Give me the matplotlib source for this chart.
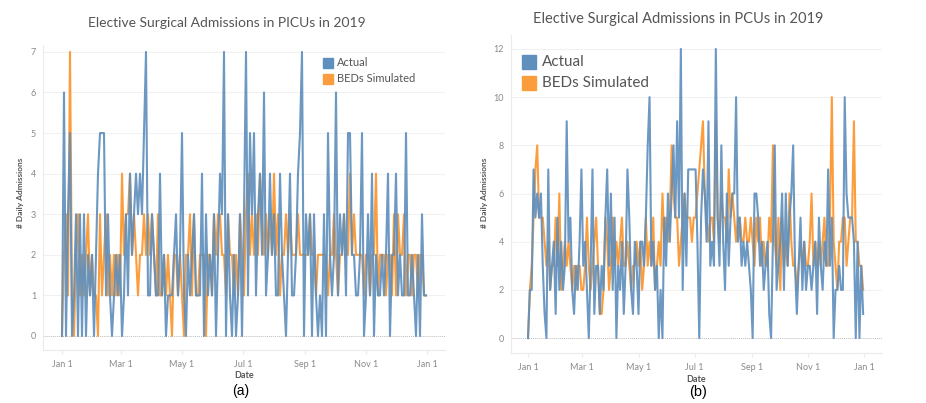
import matplotlib
matplotlib.use('Agg')
import matplotlib.pyplot as plt
import matplotlib.dates as mdates
from matplotlib.patches import Rectangle
import pandas as pd

# dates sampled every 2 days through 2019
dates = pd.date_range('2019-01-01', '2019-12-31', freq='2D')

# (a) PICUs
picu_actual = [
    0, 6, 0, 3, 5, 0, 1, 3, 0, 3,
    0, 3, 0, 2, 1, 2, 0, 2, 4, 5,
    5, 5, 1, 3, 1, 0, 1, 2, 1, 2,
    0, 1, 3, 1, 4, 2, 3, 4, 3, 4,
    3, 5, 7, 1, 1, 3, 2, 1, 1, 4,
    1, 2, 0, 1, 1, 1, 2, 3, 1, 2,
    5, 1, 0, 2, 1, 2, 3, 1, 1, 1,
    4, 0, 3, 1, 2, 1, 3, 0, 2, 4,
    3, 7, 0, 3, 1, 0, 2, 0, 1, 3,
    0, 3, 7, 1, 5, 3, 5, 1, 3, 4,
    2, 6, 1, 2, 4, 2, 3, 1, 1, 4,
    2, 1, 0, 2, 4, 1, 1, 2, 4, 5,
    7, 0, 3, 2, 3, 0, 3, 1, 0, 1,
    0, 3, 0, 5, 2, 1, 2, 6, 1, 3,
    2, 3, 1, 5, 5, 2, 2, 1, 1, 2,
    5, 0, 1, 3, 1, 4, 0, 2, 1, 1,
    2, 1, 2, 4, 0, 2, 2, 4, 1, 2,
    1, 1, 5, 1, 1, 2, 1, 0, 2, 0,
    3, 1, 1,
]
picu_sim = [
    0, 2, 3, 1, 7, 1, 0, 2, 3, 1,
    2, 1, 2, 3, 1, 2, 1, 1, 0, 3,
    1, 2, 3, 1, 2, 1, 2, 1, 2, 1,
    4, 2, 3, 3, 4, 2, 3, 2, 1, 2,
    2, 3, 2, 3, 2, 3, 2, 1, 3, 1,
    1, 2, 1, 2, 1, 0, 2, 2, 1, 2,
    1, 0, 2, 2, 3, 1, 3, 1, 1, 2,
    2, 2, 0, 2, 2, 1, 3, 2, 3, 3,
    2, 2, 1, 3, 2, 2, 1, 2, 1, 3,
    2, 1, 3, 4, 2, 3, 2, 3, 2, 4,
    3, 2, 3, 2, 3, 2, 4, 2, 3, 1,
    2, 2, 3, 2, 3, 2, 2, 2, 3, 2,
    2, 2, 2, 2, 3, 2, 2, 1, 2, 2,
    2, 2, 2, 1, 2, 2, 3, 2, 1, 2,
    2, 3, 2, 2, 4, 2, 3, 2, 2, 2,
    2, 1, 2, 2, 1, 2, 2, 4, 1, 2,
    2, 2, 1, 2, 2, 1, 3, 1, 3, 2,
    2, 3, 1, 2, 2, 1, 2, 2, 1, 2,
    2, 1, 1,
]

# (b) PCUs
pcu_actual = [
    0, 2, 2, 7, 5, 6, 5, 6, 3, 1,
    0, 7, 2, 3, 4, 1, 5, 2, 4, 2,
    3, 9, 4, 5, 2, 1, 3, 2, 4, 7,
    3, 4, 2, 0, 3, 7, 1, 3, 3, 1,
    3, 2, 5, 7, 3, 6, 2, 5, 0, 3,
    2, 4, 1, 3, 7, 5, 2, 1, 4, 3,
    1, 4, 4, 3, 5, 8, 10, 3, 4, 2,
    3, 0, 2, 0, 5, 3, 6, 4, 6, 8,
    5, 9, 5, 12, 2, 6, 3, 7, 7, 7,
    7, 7, 4, 0, 5, 7, 6, 4, 9, 3,
    4, 3, 12, 5, 3, 8, 4, 2, 6, 3,
    5, 6, 6, 10, 4, 5, 3, 4, 3, 4,
    3, 2, 0, 6, 6, 5, 3, 4, 2, 3,
    4, 1, 0, 4, 8, 2, 3, 4, 6, 2,
    6, 3, 5, 6, 8, 3, 1, 3, 5, 2,
    4, 2, 3, 3, 2, 3, 4, 1, 5, 3,
    2, 4, 3, 7, 3, 5, 0, 2, 2, 3,
    2, 2, 10, 6, 5, 5, 5, 4, 0, 4,
    0, 3, 1,
]
pcu_sim = [
    0, 2, 3, 5, 7, 8, 5, 5, 5, 4,
    3, 4, 2, 3, 3, 5, 3, 6, 2, 3,
    4, 3, 4, 3, 2, 3, 2, 3, 3, 2,
    2, 3, 5, 3, 2, 3, 4, 5, 3, 1,
    1, 2, 5, 4, 2, 3, 5, 3, 4, 3,
    4, 5, 3, 3, 4, 3, 2, 3, 3, 4,
    3, 4, 2, 3, 5, 3, 4, 3, 5, 2,
    3, 4, 3, 6, 4, 5, 4, 5, 8, 6,
    5, 5, 3, 4, 5, 6, 5, 5, 5, 4,
    5, 5, 6, 7, 8, 9, 6, 5, 4, 5,
    5, 4, 9, 5, 4, 6, 5, 5, 4, 7,
    5, 6, 5, 4, 5, 5, 4, 4, 5, 4,
    4, 5, 4, 3, 5, 4, 5, 3, 4, 3,
    3, 5, 4, 8, 4, 3, 5, 2, 5, 3,
    4, 3, 6, 4, 3, 3, 2, 3, 4, 3,
    4, 3, 3, 4, 6, 3, 4, 3, 4, 3,
    4, 5, 3, 3, 5, 10, 4, 3, 2, 4,
    4, 5, 5, 3, 4, 5, 5, 9, 4, 4,
    3, 3, 2,
]

tick_dates = pd.to_datetime(['2019-01-01', '2019-03-01', '2019-05-01', '2019-07-01',
                             '2019-09-01', '2019-11-01', '2020-01-01'])
tick_labels = ['Jan 1', 'Mar 1', 'May 1', 'Jul 1', 'Sep 1', 'Nov 1', 'Jan 1']

BLUE = '#5f8fbd'
ORANGE = '#fb9d3d'
W, H = 926, 403

fig = plt.figure(figsize=(W / 100, H / 100), dpi=100)


def px_axes(left, top, right, bottom):
    return fig.add_axes([left / W, 1 - bottom / H, (right - left) / W, (bottom - top) / H])


def style(ax, yticks, ylim, xpad):
    ax.set_ylim(*ylim)
    ax.set_xlim(pd.Timestamp('2019-01-01') - pd.Timedelta(days=xpad[0]),
                pd.Timestamp('2020-01-01') + pd.Timedelta(days=xpad[1]))
    ax.set_yticks(yticks)
    ax.set_xticks(tick_dates)
    ax.set_xticklabels(tick_labels)
    for y in yticks:
        if y == 0:
            ax.axhline(0, color='#bdbdbd', lw=0.7, ls=(0, (1, 1)), zorder=1)
        else:
            ax.axhline(y, color='#f1f1f1', lw=0.8, zorder=0)
    for s in ['top', 'right']:
        ax.spines[s].set_visible(False)
    for s in ['left', 'bottom']:
        ax.spines[s].set_color('#ebebeb')
        ax.spines[s].set_linewidth(0.8)
    ax.tick_params(axis='both', colors='#ebebeb', labelcolor='#8a8a8a', labelsize=6.5)
    ax.tick_params(axis='y', length=0, pad=5)
    ax.tick_params(axis='x', length=3, pad=4)
    for lab in ax.get_xticklabels() + ax.get_yticklabels():
        lab.set_family('Lato')


# panel (a)
ax1 = px_axes(43, 45, 445, 350)
ax1.plot(dates, picu_sim, color=ORANGE, lw=1.5, zorder=2)
ax1.plot(dates, picu_actual, color=BLUE, lw=1.5, alpha=0.92, zorder=3)
style(ax1, range(0, 8), (-0.345, 7.17), (19, 18))

# panel (b)
ax2 = px_axes(511, 35, 882, 353)
ax2.plot(dates, pcu_sim, color=ORANGE, lw=1.5, zorder=2)
ax2.plot(dates, pcu_actual, color=BLUE, lw=1.5, alpha=0.92, zorder=3)
style(ax2, range(0, 13, 2), (-0.62, 12.58), (18.5, 19.5))

# titles / labels
fig.text(227 / W, 1 - 23 / H, 'Elective Surgical Admissions in PICUs in 2019',
         ha='center', va='center', fontsize=10, color='#555555', family='Lato')
fig.text(678 / W, 1 - 19 / H, 'Elective Surgical Admissions in PCUs in 2019',
         ha='center', va='center', fontsize=10.5, color='#555555', family='Lato')
for x, y in [(21, 193), (485, 193)]:
    fig.text(x / W, 1 - y / H, '# Daily Admissions', rotation=90, ha='center', va='center',
             fontsize=6, color='#555555', fontweight='bold', family='Lato')
for x, y in [(244, 376), (696, 379)]:
    fig.text(x / W, 1 - y / H, 'Date', ha='center', va='center',
             fontsize=6.5, color='#555555', fontweight='bold', family='Lato')
fig.text(241 / W, 1 - 391 / H, '(a)', ha='center', va='center', fontsize=10,
         color='black', family='Liberation Sans')
fig.text(698 / W, 1 - 392 / H, '(b)', ha='center', va='center', fontsize=10.5,
         color='black', family='Liberation Sans')

# legends
for x0, sz, txt_x, rows, fs in [(323, 10, 337, (63, 79), 8),
                                 (522, 14, 542, (62, 83), 11)]:
    for (y, c, name) in zip(rows, [BLUE, ORANGE], ['Actual', 'BEDs Simulated']):
        fig.patches.append(Rectangle((x0 / W, 1 - (y + sz / 2) / H), sz / W, sz / H,
                                     transform=fig.transFigure, color=c, figure=fig))
        fig.text(txt_x / W, 1 - y / H, name, ha='left', va='center', fontsize=fs,
                 color='#555555', family='Lato')

fig.savefig('out.png', dpi=100, facecolor='white')
